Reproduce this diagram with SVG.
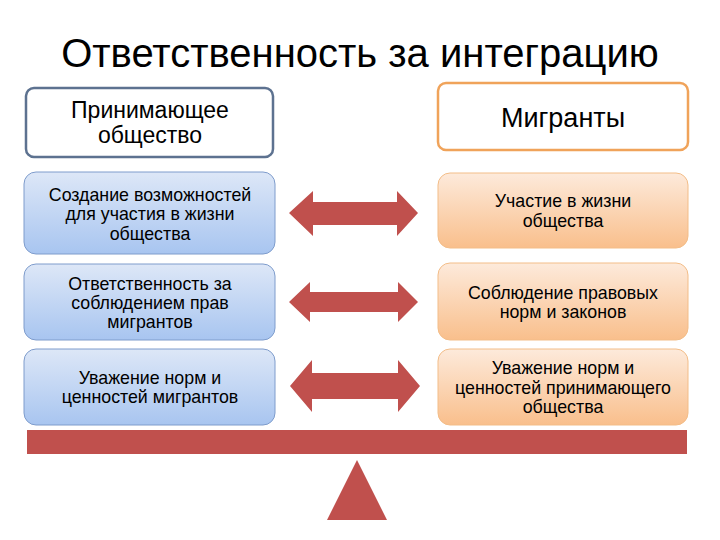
<svg xmlns="http://www.w3.org/2000/svg" width="720" height="540" viewBox="0 0 720 540">
<defs>
<linearGradient id="gBlue" x1="0" y1="0" x2="0" y2="1">
<stop offset="0" stop-color="#dde7f7"/>
<stop offset="1" stop-color="#a8c5f0"/>
</linearGradient>
<linearGradient id="gOrange" x1="0" y1="0" x2="0" y2="1">
<stop offset="0" stop-color="#fdeadb"/>
<stop offset="1" stop-color="#f9bf8c"/>
</linearGradient>
<style>
text{font-family:"Liberation Sans",Arial,sans-serif;fill:#000;text-anchor:middle}
.t{font-size:17.8px}
.blue{fill:url(#gBlue);stroke:#7e9ccc;stroke-width:1}
.orange{fill:url(#gOrange);stroke:#f3bd88;stroke-width:1}
.arrow{fill:#c0504d}
</style>
</defs>
<rect width="720" height="540" fill="#fff"/>
<text x="360" y="67" style="font-size:40px">Ответственность за интеграцию</text>

<g id="header-left">
<rect x="26" y="88" width="247" height="69" rx="8" fill="#fff" stroke="#5d7290" stroke-width="2.5"/>
<text x="150" y="118" style="font-size:23px">Принимающее</text>
<text x="150" y="143" style="font-size:23px">общество</text>
</g>
<g id="header-right">
<rect x="438" y="83" width="250" height="67" rx="8" fill="#fff" stroke="#f0a35a" stroke-width="2.5"/>
<text x="563" y="127" style="font-size:27px">Мигранты</text>
</g>

<g id="left-1">
<rect class="blue" x="24" y="172" width="251" height="82" rx="12"/>
<text class="t" x="150" y="201">Создание возможностей</text>
<text class="t" x="150" y="220">для участия в жизни</text>
<text class="t" x="150" y="240">общества</text>
</g>
<g id="right-1">
<rect class="orange" x="438" y="173" width="250" height="75" rx="12"/>
<text class="t" x="563" y="207">Участие в жизни</text>
<text class="t" x="563" y="227">общества</text>
</g>
<g id="left-2">
<rect class="blue" x="24" y="264" width="251" height="76" rx="12"/>
<text class="t" x="150" y="290">Ответственность за</text>
<text class="t" x="150" y="309">соблюдением прав</text>
<text class="t" x="150" y="328">мигрантов</text>
</g>
<g id="right-2">
<rect class="orange" x="438" y="263" width="250" height="77" rx="12"/>
<text class="t" x="563" y="299">Соблюдение правовых</text>
<text class="t" x="563" y="318">норм и законов</text>
</g>
<g id="left-3">
<rect class="blue" x="24" y="349" width="251" height="76" rx="12"/>
<text class="t" x="150" y="384">Уважение норм и</text>
<text class="t" x="150" y="403">ценностей мигрантов</text>
</g>
<g id="right-3">
<rect class="orange" x="438" y="349" width="250" height="76" rx="12"/>
<text class="t" x="563" y="374">Уважение норм и</text>
<text class="t" x="563" y="394">ценностей принимающего</text>
<text class="t" x="563" y="413">общества</text>
</g>

<g id="connectors">
<polygon class="arrow" points="289,213 313,191 313,202 397,202 397,191 418,213 397,236 397,225 313,225 313,236"/>
<polygon class="arrow" points="289,302 310,282 310,292 398,292 398,282 418,302 398,322 398,312 310,312 310,322"/>
<polygon class="arrow" points="290,386 312,360 312,373 398,373 398,360 420,386 398,412 398,399 312,399 312,412"/>
</g>

<g id="scale">
<rect x="27" y="430" width="660" height="24" fill="#c0504d"/>
<polygon points="357,460 387,520 327,520" fill="#c0504d"/>
</g>
</svg>
